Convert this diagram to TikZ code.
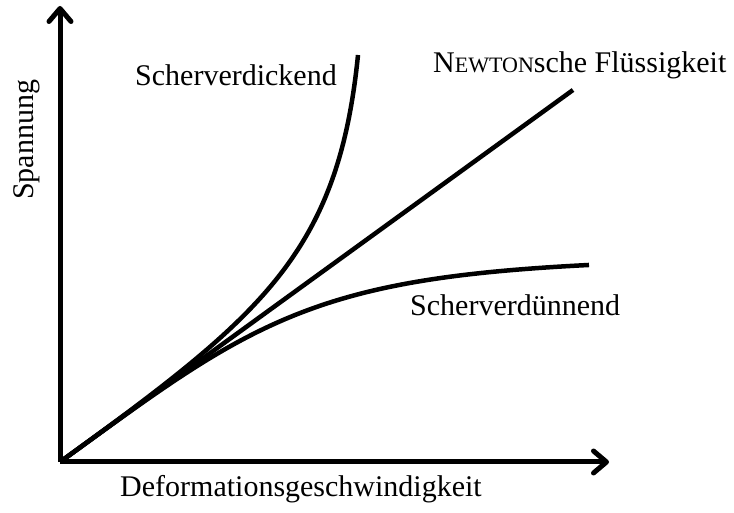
\documentclass[tikz,border=0pt]{standalone}
\usepackage{fontspec}
\setmainfont{Liberation Serif}
\usetikzlibrary{arrows.meta}
\newcommand{\smallcap}[1]{{\fontsize{22}{26}\selectfont #1}}

\begin{document}
\begin{tikzpicture}[x=1pt,y=1pt,every node/.style={font=\fontsize{30}{36}\selectfont,inner sep=0pt},
 axis/.style={line width=5pt,-{Straight Barb[length=13pt,width=22pt,round]}},
 curve/.style={line width=4.5pt}]
\useasboundingbox (0,0) rectangle (734,513);
\coordinate (O) at (60,51);
\coordinate (ytip) at (60,507);
\coordinate (xtip) at (609,51);
\coordinate (newton) at (573,423);
\coordinate (thick) at (358,458);
% axes
\draw[axis] (O) -- (ytip);
\draw[axis] (O) -- (xtip);
% curves
\draw[curve] (O) -- (newton);
\draw[curve] (O) .. controls (260,196) and (338,258) .. (thick);
\draw[curve] plot[domain=0:529,samples=80,smooth]
  ({60+\x},{51+0.725*\x/(1+(0.725*\x/206.8)^3)^(1/3)});
% labels
\node[rotate=90,anchor=base west] (ylab) at (33,313) {Spannung};
\node[anchor=base west] (xlab) at (120,16) {Deformationsgeschwindigkeit};
\node[anchor=base west] (lthick) at (135,427) {Scherverdickend};
\node[anchor=base west] (lnewton) at (433,440) {N\smallcap{EWTON}sche Flüssigkeit};
\node[anchor=base west] (lthin) at (410,197) {Scherverdünnend};
\end{tikzpicture}
\end{document}
